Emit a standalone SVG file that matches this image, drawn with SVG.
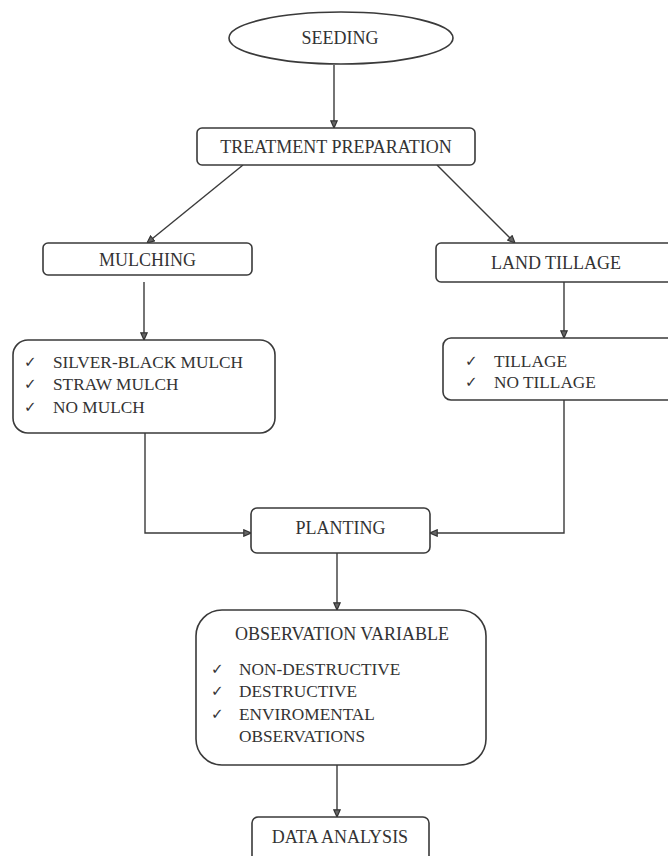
<svg xmlns="http://www.w3.org/2000/svg" width="668" height="856" viewBox="0 0 668 856">
<style>
.box{fill:#fff;stroke:#3a3a3a;stroke-width:1.6}
.t{font-family:"Liberation Serif","Times New Roman",serif;font-size:18px;fill:#333}
.c{text-anchor:middle}
.ck{font-family:"DejaVu Sans",sans-serif;font-size:15px;fill:#333}
.ln{fill:none;stroke:#3a3a3a;stroke-width:1.4}
</style>
<defs>
<marker id="ah" viewBox="0 0 10 10" refX="10" refY="5" markerWidth="8" markerHeight="8" markerUnits="userSpaceOnUse" orient="auto">
<path d="M1,1 L10,5 L1,9 Z" fill="#666" stroke="#333" stroke-width="1.5"/>
</marker>
</defs>
<rect width="668" height="856" fill="#fff"/>
<g id="connectors">
<line class="ln" x1="334" y1="65" x2="334" y2="128" marker-end="url(#ah)"/>
<line class="ln" x1="243" y1="165" x2="147" y2="243" marker-end="url(#ah)"/>
<line class="ln" x1="437" y1="165" x2="515" y2="243" marker-end="url(#ah)"/>
<line class="ln" x1="144" y1="282" x2="144" y2="340" marker-end="url(#ah)"/>
<line class="ln" x1="564" y1="282" x2="564" y2="338" marker-end="url(#ah)"/>
<polyline class="ln" points="145,433 145,533 251,533" marker-end="url(#ah)"/>
<polyline class="ln" points="564,400 564,533 430,533" marker-end="url(#ah)"/>
<line class="ln" x1="337" y1="553" x2="337" y2="610" marker-end="url(#ah)"/>
<line class="ln" x1="337" y1="765" x2="337" y2="817" marker-end="url(#ah)"/>
</g>
<g id="seeding">
<ellipse class="box" cx="341" cy="38" rx="112" ry="26"/>
<text class="t c" x="340" y="44">SEEDING</text>
</g>
<g id="treatment">
<rect class="box" x="197" y="128" width="278" height="37" rx="5"/>
<text class="t c" x="336" y="153">TREATMENT PREPARATION</text>
</g>
<g id="mulching">
<rect class="box" x="43" y="243" width="209" height="32" rx="5"/>
<text class="t c" x="147.5" y="266">MULCHING</text>
</g>
<g id="land-tillage">
<rect class="box" x="436" y="243" width="240" height="39" rx="5"/>
<text class="t c" x="556" y="269">LAND TILLAGE</text>
</g>
<g id="mulch-options">
<rect class="box" x="13" y="340" width="262" height="93" rx="15"/>
<text class="ck" x="24" y="367">✓</text>
<text class="ck" x="24" y="389">✓</text>
<text class="ck" x="24" y="412">✓</text>
<text class="t" x="53" y="368" style="font-size:17.3px">SILVER-BLACK MULCH</text>
<text class="t" x="53" y="390" style="font-size:17.3px">STRAW MULCH</text>
<text class="t" x="53" y="413" style="font-size:17.3px">NO MULCH</text>
</g>
<g id="tillage-options">
<rect class="box" x="443" y="338" width="245" height="62" rx="8"/>
<text class="ck" x="465" y="366">✓</text>
<text class="ck" x="465" y="387">✓</text>
<text class="t" x="494" y="367" style="font-size:17.3px">TILLAGE</text>
<text class="t" x="494" y="388" style="font-size:17.3px">NO TILLAGE</text>
</g>
<g id="planting">
<rect class="box" x="251" y="508" width="179" height="45" rx="6"/>
<text class="t c" x="340.5" y="534">PLANTING</text>
</g>
<g id="observation">
<rect class="box" x="196" y="610" width="290" height="155" rx="26"/>
<text class="t c" x="342" y="640">OBSERVATION VARIABLE</text>
<text class="ck" x="211" y="674">✓</text>
<text class="ck" x="211" y="696">✓</text>
<text class="ck" x="211" y="719">✓</text>
<text class="t" x="239" y="675" style="font-size:17.3px">NON-DESTRUCTIVE</text>
<text class="t" x="239" y="697" style="font-size:17.3px">DESTRUCTIVE</text>
<text class="t" x="239" y="720" style="font-size:17.3px">ENVIROMENTAL</text>
<text class="t" x="239" y="742" style="font-size:17.3px">OBSERVATIONS</text>
</g>
<g id="data-analysis">
<rect class="box" x="252" y="817" width="177" height="50" rx="6"/>
<text class="t c" x="340" y="843">DATA ANALYSIS</text>
</g>
</svg>
